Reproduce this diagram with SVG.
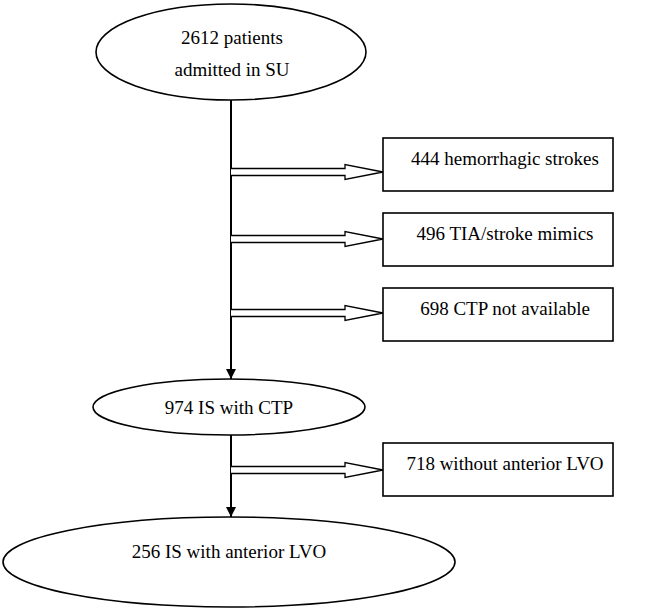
<svg xmlns="http://www.w3.org/2000/svg" width="645" height="613" viewBox="0 0 645 613">
<defs>
<style>
.n{fill:#fff;stroke:#000;stroke-width:1.6}
.t{font-family:'Liberation Serif','DejaVu Serif',serif;font-size:19px;fill:#000;text-anchor:middle}
.v{stroke:#000;stroke-width:2;fill:none}
.b{fill:#fff;stroke:#000;stroke-width:1.3;stroke-linejoin:miter}
</style>
<marker id="ah" viewBox="0 0 10 10" refX="10" refY="5" markerWidth="10" markerHeight="10" markerUnits="userSpaceOnUse" orient="auto">
<path d="M0,0 L10,5 L0,10 Z" fill="#000"/>
</marker>
</defs>
<rect width="645" height="613" fill="#fff"/>
<g id="connectors">
<line class="v" x1="231" y1="100" x2="231" y2="379" marker-end="url(#ah)"/>
<line class="v" x1="231" y1="435" x2="231" y2="517" marker-end="url(#ah)"/>
<path class="b" d="M231,168.5 H345 V164.5 L383,172 L345,179.5 V175.5 H231"/>
<path class="b" d="M231,235.5 H345 V231.5 L383,239 L345,246.5 V242.5 H231"/>
<path class="b" d="M231,309.5 H345 V305.5 L383,313 L345,320.5 V316.5 H231"/>
<path class="b" d="M231,466.5 H345 V462.5 L383,470 L345,477.5 V473.5 H231"/>
</g>
<g id="n1">
<ellipse class="n" cx="231" cy="52" rx="135" ry="48"/>
<text class="t" x="232" y="44" font-family="Liberation Serif, serif">2612 patients</text>
<text class="t" x="232" y="76" font-family="Liberation Serif, serif">admitted in SU</text>
</g>
<g id="n2">
<rect class="n" x="383" y="138" width="230" height="53"/>
<text class="t" x="505" y="165">444 hemorrhagic strokes</text>
</g>
<g id="n3">
<rect class="n" x="383" y="213" width="230" height="53"/>
<text class="t" x="505" y="240">496 TIA/stroke mimics</text>
</g>
<g id="n4">
<rect class="n" x="383" y="288" width="230" height="53"/>
<text class="t" x="505" y="315">698 CTP not available</text>
</g>
<g id="n5">
<ellipse class="n" cx="229" cy="407" rx="136" ry="28"/>
<text class="t" x="229" y="414">974 IS with CTP</text>
</g>
<g id="n6">
<rect class="n" x="383" y="443" width="230" height="53"/>
<text class="t" x="505" y="470">718 without anterior LVO</text>
</g>
<g id="n7">
<ellipse class="n" cx="229" cy="562" rx="226" ry="45"/>
<text class="t" x="229" y="558">256 IS with anterior LVO</text>
</g>
</svg>
